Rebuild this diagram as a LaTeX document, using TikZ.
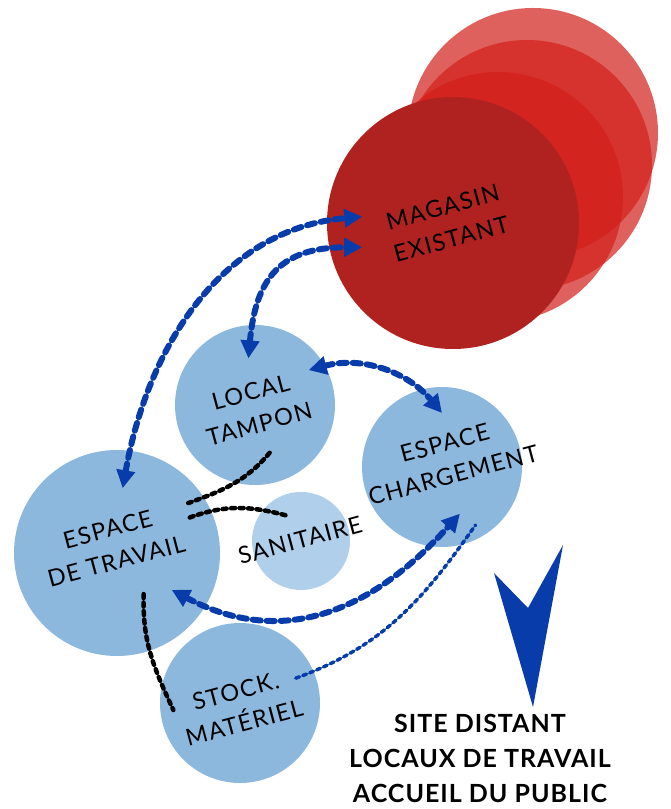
\documentclass[tikz,border=0pt]{standalone}
\usepackage{fontspec}
\setmainfont{Lato}
\newfontfamily\tagfont{Lato}[LetterSpace=6.0]
\newfontfamily\sitefont{Lato}[LetterSpace=4.0]
\usetikzlibrary{arrows.meta,calc}

\definecolor{roomblue}{RGB}{141,184,222}
\definecolor{paleblue}{RGB}{175,207,234}
\definecolor{linkblue}{RGB}{8,60,170}
\definecolor{shopred}{RGB}{176,34,31}
\definecolor{trailred}{RGB}{210,30,25}

\begin{document}
\begin{tikzpicture}[
		x = 1pt, y = 1pt,
		> = {Triangle[length=18pt,width=18pt]}, % arrow head style
		room/.style = {circle, fill=roomblue, inner sep=0pt},
		tag/.style = {rotate=15, align=center, font=\tagfont\fontsize{23.5}{33}\selectfont},
		flow/.style = {<->, linkblue, line width=6pt, line cap=round, dash pattern=on 8pt off 6pt},
		link/.style = {linkblue, line width=3.5pt, line cap=round, dash pattern=on 4pt off 3.5pt},
		wall/.style = {black, line width=4.5pt, line cap=round, dash pattern=on 4pt off 4.5pt}
		]
		\useasboundingbox (0,0) rectangle (671,809);
		
		% existing shop, with its trail
		\fill[trailred, fill opacity=0.7] (533,676) circle (125);
		\fill[trailred, fill opacity=0.7] (527,644) circle (125);
		\fill[trailred, fill opacity=0.7] (498,612) circle (125);
		\node[circle, fill=shopred, inner sep=0pt, minimum size=252pt] (magasin) at (453,586) {};
		\node[tag] at (447,586) {MAGASIN\\EXISTANT};
		
		% rooms
		\node[room, minimum size=160pt] (tampon) at (255,404) {};
		\node[room, minimum size=160pt] (charg) at (442,342) {};
		\node[room, minimum size=206pt] (travail) at (117,256) {};
		\node[room, fill=paleblue, minimum size=98pt] (sanit) at (301,268) {};
		\node[room, minimum size=160pt] (stock) at (240,106) {};
		
		\node[tag] at (255,401) {LOCAL\\TAMPON};
		\node[tag] at (449,350) {ESPACE\\CHARGEMENT};
		\node[tag] at (112,264) {ESPACE\\DE TRAVAIL};
		\node[tag] at (300,269) {SANITAIRE};
		\node[tag] at (240,102) {STOCK.\\MATÉRIEL};
		
		% flows
		\draw[flow] ($(travail)+(85:65pt)$) to[out=80,in=185] ($(magasin)+(176:91pt)$);
		\draw[flow] ($(tampon)+(98:47pt)$) to[out=85,in=180,looseness=1.3] ($(magasin)+(195:94pt)$);
		\draw[flow] ($(tampon)+(33:64pt)$) to[out=15,in=130] ($(charg)+(90:54pt)$);
		\draw[flow] ($(travail)+(-34:66pt)$) to[out=-28,in=228,looseness=1.1] ($(charg)+(-69:50pt)$);
		\draw[link] ($(stock)+(24:61pt)$) to[out=20,in=235] ($(charg)+(-60:67pt)$);
		
		\draw[wall] ($(tampon)+(-73:50pt)$) to[out=230,in=20] ($(travail)+(35:87pt)$);
		\draw[wall] ($(travail)+(26:81pt)$) to[out=20,in=165] ($(sanit)+(119:29pt)$);
		\draw[wall] ($(travail)+(-57:49pt)$) to[out=268,in=115] ($(stock)+(186:67pt)$);
		
		% remote site
		\fill[linkblue] (494,236) -- (528,201) -- (563,264) -- (533,102) -- cycle;
		\node[anchor=south, inner sep=0pt, align=center, font=\sitefont\bfseries\fontsize{25}{35}\selectfont] (site) at (480,6) {SITE DISTANT\\LOCAUX DE TRAVAIL\\ACCUEIL DU PUBLIC};
	\end{tikzpicture}
\end{document}
